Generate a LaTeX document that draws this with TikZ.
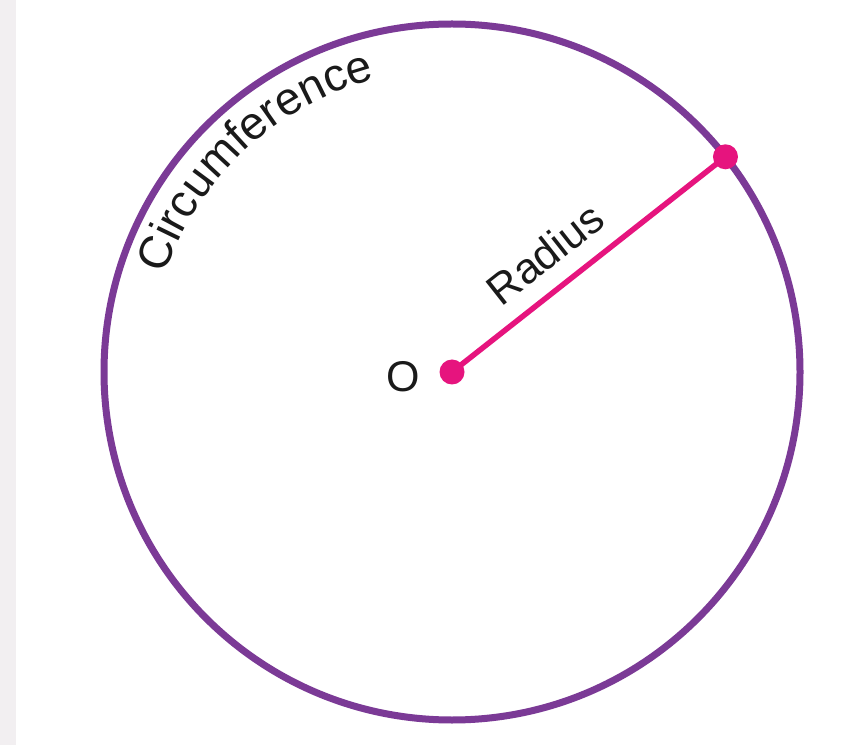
\documentclass[tikz,border=0pt]{standalone}
\usepackage{fontspec}
\setmainfont{Liberation Sans}
\usetikzlibrary{decorations.text}
\definecolor{circ}{HTML}{7B3A96}
\definecolor{rad}{HTML}{E6147E}
\definecolor{txt}{HTML}{1A1A1A}
\definecolor{strip}{HTML}{F2EFF1}
\begin{document}
\begin{tikzpicture}[x=1pt,y=1pt,
  dot/.style={circle, fill=rad, inner sep=0pt, minimum size=25pt},
  lbl/.style={font=\fontsize{43}{50}\selectfont, text=txt}]
\useasboundingbox (0,0) rectangle (859,745);
\fill[white] (0,0) rectangle (859,745);
\fill[strip] (0,0) rectangle (16,745);
\coordinate (O) at (452,373);
\draw[circ, line width=7pt] (O) circle[radius=348];
\node[dot] (c) at (O) {};
\node[dot] (p) at ([shift={(O)}]38.2:348) {};
\draw[rad, line width=5.5pt] (c.center) -- node[sloped, anchor=south, pos=0.42, inner xsep=0pt, inner ysep=17pt, lbl] (rlab) {Radius} (p.center);
\node[lbl, inner sep=0pt] (olab) at (403,368) {O};
\path[decorate, decoration={text along path, text align=center,
  text={|\fontsize{46}{54}\selectfont\color{txt}|Circumference}}]
  (O) ++(163:303) arc[start angle=163, end angle=103, radius=303];
\end{tikzpicture}
\end{document}
